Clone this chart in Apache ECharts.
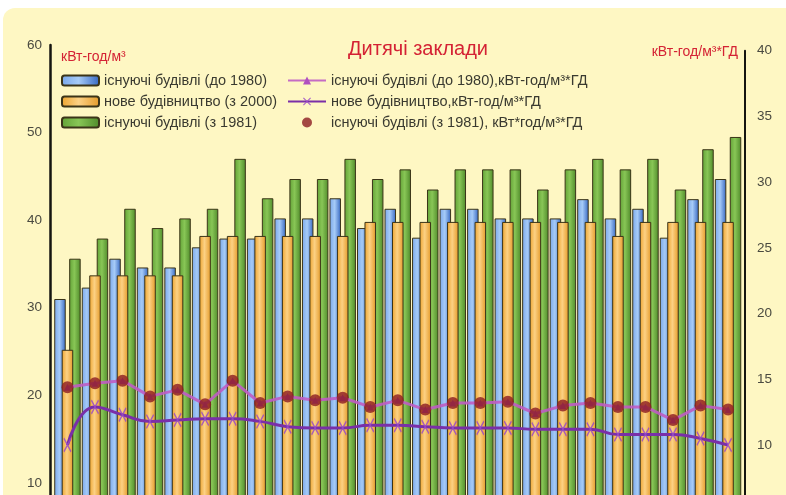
<!DOCTYPE html>
<html>
<head>
<meta charset="utf-8">
<script src="https://cdn.jsdelivr.net/npm/echarts@6/dist/echarts.min.js"></script>
<style>
  html, body { margin: 0; padding: 0; background: #ffffff; overflow: hidden; width: 786px; height: 495px; }
  #panel { position: absolute; left: 3px; top: 8px; right: 0; bottom: 0; background: #fef7c3; border-top-left-radius: 12px; }
  #chart { position: absolute; left: 0; top: 0; width: 786px; height: 600px; }
</style>
</head>
<body>
<div id="panel"></div>
<div id="chart"></div>
<script>
// Kindergartens: specific heat use (bars, left axis) and per degree-day (lines, right axis)
const categories = ['1','2','3','4','5','6','7','8','9','10','11','12','13','14','15','16','17','18','19','20','21','22','23','24','25'];

// kWh/m³ — existing buildings (before 1980)
const oldBuildings = [31.0, 32.3, 35.6, 34.6, 34.6, 36.9, 37.9, 37.9, 40.2, 40.2, 42.5, 39.1, 41.3, 38.0, 41.3, 41.3, 40.2, 40.2, 40.2, 42.4, 40.2, 41.3, 38.0, 42.4, 44.7];
// kWh/m³ — new construction (from 2000)
const newBuildings = [25.2, 33.7, 33.7, 33.7, 33.7, 38.2, 38.2, 38.2, 38.2, 38.2, 38.2, 39.8, 39.8, 39.8, 39.8, 39.8, 39.8, 39.8, 39.8, 39.8, 38.2, 39.8, 39.8, 39.8, 39.8];
// kWh/m³ — existing buildings (from 1981)
const laterBuildings = [35.6, 37.9, 41.3, 39.1, 40.2, 41.3, 47.0, 42.5, 44.7, 44.7, 47.0, 44.7, 45.8, 43.5, 45.8, 45.8, 45.8, 43.5, 45.8, 47.0, 45.8, 47.0, 43.5, 48.1, 49.5];

// kWh/m³·DD
const oldPerDegreeDay = [14.4, 14.7, 14.9, 13.7, 14.2, 13.1, 14.9, 13.2, 13.7, 13.4, 13.6, 12.9, 13.4, 12.7, 13.2, 13.2, 13.3, 12.4, 13.0, 13.2, 12.9, 12.9, 11.9, 13.0, 12.7];
const newPerDegreeDay = [10.0, 12.9, 12.3, 11.8, 11.9, 12.0, 12.0, 11.8, 11.4, 11.3, 11.3, 11.5, 11.5, 11.4, 11.3, 11.3, 11.3, 11.2, 11.2, 11.2, 10.8, 10.8, 10.8, 10.5, 10.0];
const laterPerDegreeDay = [14.4, 14.7, 14.9, 13.7, 14.2, 13.1, 14.9, 13.2, 13.7, 13.4, 13.6, 12.9, 13.4, 12.7, 13.2, 13.2, 13.3, 12.4, 13.0, 13.2, 12.9, 12.9, 11.9, 13.0, 12.7];

const leftTicks = { min: 0, max: 60, interval: 10 };
const rightTicks = { min: 0, max: 40, interval: 5 };

const FONT = 'Liberation Sans, Arial, sans-serif';
const grad = (a, b, c) => new echarts.graphic.LinearGradient(0, 0, 1, 0, [
  { offset: 0, color: a }, { offset: 0.45, color: b }, { offset: 1, color: c }
]);
const barBorder = { borderColor: '#3b3418', borderWidth: 1 };
const xPath = 'path://M0,1L1,0L5,4L9,0L10,1L6,5L10,9L9,10L5,6L1,10L0,9L4,5Z';

const chart = echarts.init(document.getElementById('chart'), null, { renderer: 'canvas' });
chart.setOption({
  backgroundColor: 'transparent',
  animation: false,
  title: {
    text: 'Дитячі заклади',
    left: 343, top: 34,
    textStyle: { color: '#d42234', fontFamily: FONT, fontSize: 20, fontWeight: 'normal' }
  },
  graphic: [
    { type: 'text', left: 61, top: 50, style: { text: 'кВт-год/м³', fill: '#d42234', font: '14px ' + FONT } },
    { type: 'text', right: 48, top: 45, style: { text: 'кВт-год/м³*ГД', fill: '#d42234', font: '14px ' + FONT } }
  ],
  legend: [
    {
      left: 61, top: 73, padding: 0, orient: 'vertical', itemWidth: 37, itemHeight: 10, itemGap: 6,
      textStyle: { fontFamily: FONT, fontSize: 14.5, color: '#3a3a30', lineHeight: 15 },
      data: ['існуючі будівлі (до 1980)', 'нове будівництво (з 2000)', 'існуючі будівлі (з 1981)']
    },
    {
      left: 287, top: 73, padding: 0, orient: 'vertical', itemWidth: 38, itemHeight: 10, itemGap: 6,
      textStyle: { fontFamily: FONT, fontSize: 14.5, color: '#3a3a30', lineHeight: 15 },
      data: ['існуючі будівлі (до 1980),кВт-год/м³*ГД', 'нове будівництво,кВт-год/м³*ГД', 'існуючі будівлі (з 1981), кВт*год/м³*ГД']
    }
  ],
  grid: [
    { left: 53.7, right: 44.2, top: 45, bottom: 29.5 },
    { left: 53.7, right: 44.2, top: 50.7, bottom: 23.5 }
  ],
  xAxis: [0, 1].map(i => ({
    type: 'category', gridIndex: i, data: categories, boundaryGap: true,
    axisLine: { show: false }, axisTick: { show: false }, axisLabel: { show: false }
  })),
  yAxis: [
    {
      type: 'value', gridIndex: 0, position: 'left', offset: 3.7,
      min: leftTicks.min, max: leftTicks.max, interval: leftTicks.interval,
      axisLine: { show: true, lineStyle: { color: '#151510', width: 2.5 } },
      axisTick: { show: false }, splitLine: { show: false },
      axisLabel: { color: '#4a4a40', fontFamily: FONT, fontSize: 13.5, margin: 8 }
    },
    {
      type: 'value', gridIndex: 1, position: 'right', offset: 3.2,
      min: rightTicks.min, max: rightTicks.max, interval: rightTicks.interval,
      axisLine: { show: true, lineStyle: { color: '#151510', width: 2 } },
      axisTick: { show: false }, splitLine: { show: false },
      axisLabel: { color: '#4a4a40', fontFamily: FONT, fontSize: 13.5, margin: 12 }
    }
  ],
  series: [
    {
      name: 'існуючі будівлі (до 1980)', type: 'bar', xAxisIndex: 0, yAxisIndex: 0,
      data: oldBuildings, barWidth: 11.5, barGap: '-35%', z: 2,
      itemStyle: Object.assign({ color: grad('#78a6ea', '#a6cbf7', '#3466c2') }, barBorder)
    },
    {
      name: 'нове будівництво (з 2000)', type: 'bar', xAxisIndex: 0, yAxisIndex: 0,
      data: newBuildings, barWidth: 11.5, barGap: '-35%', z: 3,
      itemStyle: Object.assign({ color: grad('#eda42e', '#fcd184', '#e49a28') }, barBorder)
    },
    {
      name: 'існуючі будівлі (з 1981)', type: 'bar', xAxisIndex: 0, yAxisIndex: 0,
      data: laterBuildings, barWidth: 11.5, barGap: '-35%', z: 2,
      itemStyle: Object.assign({ color: grad('#62a236', '#88c656', '#4f8a2a') }, barBorder)
    },
    {
      name: 'існуючі будівлі (до 1980),кВт-год/м³*ГД', type: 'line', xAxisIndex: 1, yAxisIndex: 1,
      data: oldPerDegreeDay, z: 5,
      lineStyle: { color: '#bf5cc4', width: 3, opacity: 0.9 },
      itemStyle: { color: '#b050c0' },
      symbol: 'triangle', symbolSize: 7
    },
    {
      name: 'нове будівництво,кВт-год/м³*ГД', type: 'line', xAxisIndex: 1, yAxisIndex: 1,
      data: newPerDegreeDay, smooth: 0.5, z: 5,
      lineStyle: { color: '#7a2fa8', width: 3 },
      itemStyle: { color: '#9a4ac8', opacity: 0.85 },
      symbol: xPath, symbolSize: [8, 15]
    },
    {
      name: 'існуючі будівлі (з 1981), кВт*год/м³*ГД', type: 'scatter', xAxisIndex: 1, yAxisIndex: 1,
      data: laterPerDegreeDay, z: 6,
      symbol: 'circle', symbolSize: 12,
      itemStyle: { color: '#8c1c22' }
    }
  ]
});
</script>
</body>
</html>
